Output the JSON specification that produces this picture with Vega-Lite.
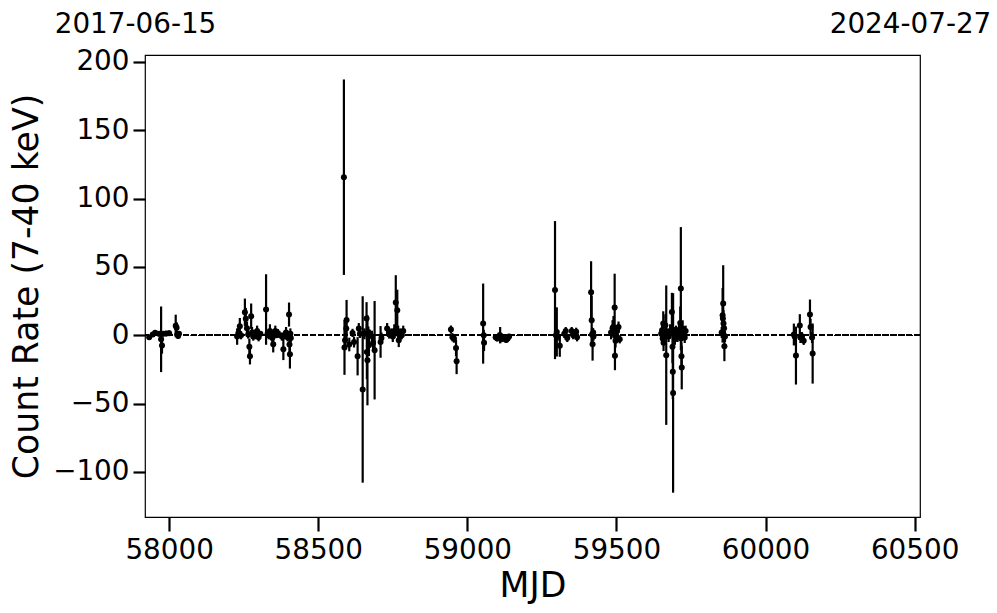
{
  "$schema": "https://vega.github.io/schema/vega-lite/v6.json",
  "autosize": "none",
  "width": 775,
  "height": 462,
  "padding": {"left": 145, "top": 55, "right": 77, "bottom": 96},
  "background": "white",
  "config": {
    "font": "DejaVu Sans",
    "view": {"stroke": "black", "strokeWidth": 1.2},
    "axis": {"grid": false, "domain": false, "labelFlush": false, "labelColor": "black", "titleColor": "black", "tickColor": "black", "labelFont": "DejaVu Sans", "titleFont": "DejaVu Sans", "titleFontWeight": "normal"}
  },
  "data": {"values": [
    {"mjd": 57933, "rate": -1.5, "err": 1.5},
    {"mjd": 57945, "rate": 0.5, "err": 1.5},
    {"mjd": 57953, "rate": 1.8, "err": 1.5},
    {"mjd": 57966, "rate": 1.0, "err": 2},
    {"mjd": 57973, "rate": -3, "err": 24},
    {"mjd": 57976, "rate": -7.5, "err": 6},
    {"mjd": 57980, "rate": 1.0, "err": 2},
    {"mjd": 57990, "rate": 1.2, "err": 2},
    {"mjd": 58000, "rate": 1.5, "err": 2},
    {"mjd": 58022, "rate": 7.0, "err": 8},
    {"mjd": 58025, "rate": 5.5, "err": 4},
    {"mjd": 58027, "rate": 0.5, "err": 2},
    {"mjd": 58030, "rate": -0.5, "err": 2},
    {"mjd": 58033, "rate": 1.0, "err": 2},
    {"mjd": 58228, "rate": -1.0, "err": 6},
    {"mjd": 58232, "rate": 1.5, "err": 4},
    {"mjd": 58237, "rate": 6.6, "err": 6},
    {"mjd": 58241, "rate": 0, "err": 3},
    {"mjd": 58254, "rate": 16.8, "err": 10},
    {"mjd": 58257, "rate": 12, "err": 8},
    {"mjd": 58261, "rate": 5, "err": 5},
    {"mjd": 58265, "rate": 0.5, "err": 3},
    {"mjd": 58269, "rate": -8.5, "err": 6},
    {"mjd": 58271, "rate": -15.4, "err": 6},
    {"mjd": 58275, "rate": 13.9, "err": 9.3},
    {"mjd": 58278, "rate": 2, "err": 4},
    {"mjd": 58282, "rate": -1, "err": 3},
    {"mjd": 58286, "rate": 1, "err": 3},
    {"mjd": 58290, "rate": 0, "err": 3},
    {"mjd": 58295, "rate": 3, "err": 4},
    {"mjd": 58300, "rate": -1.5, "err": 3},
    {"mjd": 58306, "rate": 1, "err": 2},
    {"mjd": 58325, "rate": 18.8, "err": 25.8},
    {"mjd": 58330, "rate": 1, "err": 3},
    {"mjd": 58334, "rate": 0, "err": 3},
    {"mjd": 58338, "rate": 3, "err": 5},
    {"mjd": 58342, "rate": 1.5, "err": 3},
    {"mjd": 58346, "rate": -2, "err": 4},
    {"mjd": 58349, "rate": -6.6, "err": 6},
    {"mjd": 58352, "rate": 0.5, "err": 3},
    {"mjd": 58356, "rate": 3, "err": 4},
    {"mjd": 58361, "rate": 0, "err": 2},
    {"mjd": 58365, "rate": 1.5, "err": 3},
    {"mjd": 58378, "rate": -1, "err": 3},
    {"mjd": 58383, "rate": -10.2, "err": 8},
    {"mjd": 58387, "rate": 0, "err": 3},
    {"mjd": 58392, "rate": 2, "err": 4},
    {"mjd": 58397, "rate": -1.5, "err": 3},
    {"mjd": 58402, "rate": 15.1, "err": 8.8},
    {"mjd": 58403.5, "rate": -6.8, "err": 6},
    {"mjd": 58405, "rate": -13.9, "err": 10.5},
    {"mjd": 58406.5, "rate": 1, "err": 4},
    {"mjd": 58408, "rate": -2, "err": 3},
    {"mjd": 58586, "rate": 115.6, "err": 71.5},
    {"mjd": 58588, "rate": -9.0, "err": 20},
    {"mjd": 58590, "rate": -3.7, "err": 5},
    {"mjd": 58594, "rate": 4.9, "err": 5},
    {"mjd": 58595, "rate": 11.2, "err": 14.6},
    {"mjd": 58604, "rate": -6.8, "err": 5},
    {"mjd": 58615, "rate": 1.7, "err": 3},
    {"mjd": 58620, "rate": -5, "err": 4},
    {"mjd": 58632, "rate": -15.4, "err": 14},
    {"mjd": 58636, "rate": 4.9, "err": 4},
    {"mjd": 58640, "rate": 1, "err": 3},
    {"mjd": 58649, "rate": -39.7, "err": 68.2},
    {"mjd": 58655, "rate": 1.0, "err": 4},
    {"mjd": 58662, "rate": 12.2, "err": 12},
    {"mjd": 58663, "rate": -12.2, "err": 20},
    {"mjd": 58665, "rate": -18.3, "err": 33},
    {"mjd": 58668, "rate": 2.4, "err": 4},
    {"mjd": 58670, "rate": -7.3, "err": 8},
    {"mjd": 58680, "rate": -0.7, "err": 4},
    {"mjd": 58684, "rate": -5.6, "err": 6},
    {"mjd": 58689, "rate": -11, "err": 36},
    {"mjd": 58709, "rate": -4.9, "err": 11.6},
    {"mjd": 58712, "rate": -2, "err": 4},
    {"mjd": 58731, "rate": 4.9, "err": 4},
    {"mjd": 58738, "rate": 0.5, "err": 3},
    {"mjd": 58745, "rate": 2, "err": 3},
    {"mjd": 58750, "rate": -1, "err": 4},
    {"mjd": 58755, "rate": 3, "err": 5},
    {"mjd": 58760, "rate": 23.9, "err": 20},
    {"mjd": 58765, "rate": 18.3, "err": 15},
    {"mjd": 58768, "rate": 1, "err": 6},
    {"mjd": 58770, "rate": -3.7, "err": 5},
    {"mjd": 58775, "rate": 2, "err": 3},
    {"mjd": 58780, "rate": 0, "err": 3},
    {"mjd": 58785, "rate": 3, "err": 4},
    {"mjd": 58945, "rate": 4.1, "err": 3},
    {"mjd": 58950, "rate": -1.5, "err": 3},
    {"mjd": 58955, "rate": -2.5, "err": 3},
    {"mjd": 58962, "rate": -9.3, "err": 6},
    {"mjd": 58964, "rate": -19, "err": 9.5},
    {"mjd": 59053, "rate": 8.5, "err": 29.3},
    {"mjd": 59055, "rate": 0, "err": 4},
    {"mjd": 59056, "rate": -5.6, "err": 6},
    {"mjd": 59095, "rate": -1.5, "err": 2},
    {"mjd": 59100, "rate": -2.5, "err": 2},
    {"mjd": 59105, "rate": -1, "err": 3},
    {"mjd": 59110, "rate": 0, "err": 6},
    {"mjd": 59115, "rate": -3, "err": 2},
    {"mjd": 59120, "rate": -2, "err": 2},
    {"mjd": 59125, "rate": -1.5, "err": 2},
    {"mjd": 59130, "rate": -3.5, "err": 2},
    {"mjd": 59135, "rate": -2.5, "err": 2},
    {"mjd": 59140, "rate": -1, "err": 2},
    {"mjd": 59294, "rate": 33, "err": 50.5},
    {"mjd": 59297, "rate": 0, "err": 3},
    {"mjd": 59300, "rate": 2.4, "err": 18},
    {"mjd": 59303, "rate": -1, "err": 3},
    {"mjd": 59310, "rate": -7.8, "err": 8},
    {"mjd": 59325, "rate": 1, "err": 3},
    {"mjd": 59330, "rate": 3, "err": 3},
    {"mjd": 59335, "rate": -2, "err": 3},
    {"mjd": 59350, "rate": 3, "err": 3},
    {"mjd": 59355, "rate": 0, "err": 3},
    {"mjd": 59365, "rate": 2.5, "err": 3},
    {"mjd": 59368, "rate": -1.5, "err": 3},
    {"mjd": 59415, "rate": 31.5, "err": 22.6},
    {"mjd": 59417, "rate": 11, "err": 18},
    {"mjd": 59418, "rate": 0.5, "err": 5},
    {"mjd": 59420, "rate": -6.6, "err": 12},
    {"mjd": 59422, "rate": 2, "err": 3},
    {"mjd": 59423, "rate": -1, "err": 3},
    {"mjd": 59482, "rate": 2, "err": 5},
    {"mjd": 59487, "rate": 5, "err": 6},
    {"mjd": 59490, "rate": 6, "err": 8},
    {"mjd": 59494, "rate": 20.2, "err": 24.8},
    {"mjd": 59495, "rate": -15.1, "err": 10.5},
    {"mjd": 59497, "rate": -4, "err": 5},
    {"mjd": 59499, "rate": 0, "err": 4},
    {"mjd": 59502, "rate": 3, "err": 4},
    {"mjd": 59507, "rate": 6, "err": 4},
    {"mjd": 59511, "rate": -3, "err": 3},
    {"mjd": 59650, "rate": 1, "err": 4},
    {"mjd": 59653, "rate": 3.7, "err": 5},
    {"mjd": 59655, "rate": -2.4, "err": 4},
    {"mjd": 59657, "rate": 8.5, "err": 9},
    {"mjd": 59658, "rate": -5.6, "err": 6},
    {"mjd": 59660, "rate": 0, "err": 3},
    {"mjd": 59664, "rate": 7.3, "err": 8},
    {"mjd": 59667, "rate": -14.6, "err": 51},
    {"mjd": 59670, "rate": 1, "err": 4},
    {"mjd": 59675, "rate": -1, "err": 4},
    {"mjd": 59680, "rate": 3, "err": 5},
    {"mjd": 59686, "rate": 17, "err": 14},
    {"mjd": 59688, "rate": -8.5, "err": 12},
    {"mjd": 59689, "rate": -26.8, "err": 20},
    {"mjd": 59690, "rate": -42.2, "err": 73},
    {"mjd": 59693, "rate": 1, "err": 5},
    {"mjd": 59696, "rate": -3, "err": 4},
    {"mjd": 59700, "rate": 2, "err": 5},
    {"mjd": 59705, "rate": -1, "err": 4},
    {"mjd": 59710, "rate": 4, "err": 6},
    {"mjd": 59714, "rate": 9, "err": 12},
    {"mjd": 59716, "rate": 34.1, "err": 45},
    {"mjd": 59717, "rate": -2.4, "err": 5},
    {"mjd": 59718, "rate": -15.4, "err": 10},
    {"mjd": 59719, "rate": -23.6, "err": 16},
    {"mjd": 59722, "rate": 4.9, "err": 6},
    {"mjd": 59726, "rate": 1.7, "err": 4},
    {"mjd": 59729, "rate": -1.7, "err": 4},
    {"mjd": 59732, "rate": 3, "err": 4},
    {"mjd": 59853, "rate": 2, "err": 4},
    {"mjd": 59856, "rate": 14.6, "err": 20},
    {"mjd": 59857, "rate": 12.2, "err": 12},
    {"mjd": 59858, "rate": 23.2, "err": 28},
    {"mjd": 59859, "rate": 8.5, "err": 10},
    {"mjd": 59860, "rate": 0, "err": 5},
    {"mjd": 59861, "rate": 5, "err": 6},
    {"mjd": 59862, "rate": -8, "err": 11},
    {"mjd": 59864, "rate": -1, "err": 4},
    {"mjd": 60095, "rate": 0.5, "err": 8},
    {"mjd": 60098, "rate": -1, "err": 4},
    {"mjd": 60102, "rate": -14.9, "err": 21.2},
    {"mjd": 60115, "rate": 7.1, "err": 8.3},
    {"mjd": 60117, "rate": -1.7, "err": 4},
    {"mjd": 60122, "rate": -0.7, "err": 3},
    {"mjd": 60128, "rate": -4.1, "err": 3},
    {"mjd": 60149, "rate": 15.1, "err": 11},
    {"mjd": 60151, "rate": 6, "err": 6},
    {"mjd": 60156, "rate": -1.7, "err": 4},
    {"mjd": 60158, "rate": -13.4, "err": 22}
  ]},
  "resolve": {"axis": {"x": "independent"}},
  "layer": [
    {
      "mark": {"type": "rule", "strokeDash": [5.55, 2.4], "strokeWidth": 1.5, "color": "black"},
      "encoding": {"y": {"datum": 0, "type": "quantitative", "scale": {"domain": [-133, 205], "nice": false, "zero": false}}}
    },
    {
      "mark": {"type": "errorbar", "thickness": 2.2, "color": "black"},
      "encoding": {
        "x": {"field": "mjd", "type": "quantitative",
          "scale": {"domain": [57919, 60518], "nice": false, "zero": false},
          "axis": {"orient": "bottom", "values": [58000, 58500, 59000, 59500, 60000, 60500], "format": "d",
            "title": "MJD", "titleFontSize": 34.7, "titlePadding": 6, "ticks": true,
            "labelFontSize": 27.8, "labelPadding": 5, "tickSize": 14, "tickWidth": 2.2, "tickColor": "black", "tickOpacity": 1}},
        "y": {"field": "rate", "type": "quantitative",
          "scale": {"domain": [-133, 205], "nice": false, "zero": false},
          "axis": {"values": [-100, -50, 0, 50, 100, 150, 200], "title": "Count Rate (7-40 keV)", "ticks": true,
            "titleFontSize": 34.7, "titlePadding": 8, "labelFontSize": 27.8, "labelPadding": 4,
            "tickSize": 12, "tickWidth": 2.2, "tickColor": "black", "tickOpacity": 1}},
        "yError": {"field": "err"}
      }
    },
    {
      "mark": {"type": "circle", "size": 36, "color": "black", "opacity": 1},
      "encoding": {
        "x": {"field": "mjd", "type": "quantitative",
          "axis": {"orient": "top", "values": [57919, 60518], "labelExpr": "datum.value < 59000 ? '2017-06-15' : '2024-07-27'",
            "title": null, "ticks": false, "labelFontSize": 27.8, "labelPadding": 17, "labelOffset": -10}},
        "y": {"field": "rate", "type": "quantitative"}
      }
    }
  ]
}
